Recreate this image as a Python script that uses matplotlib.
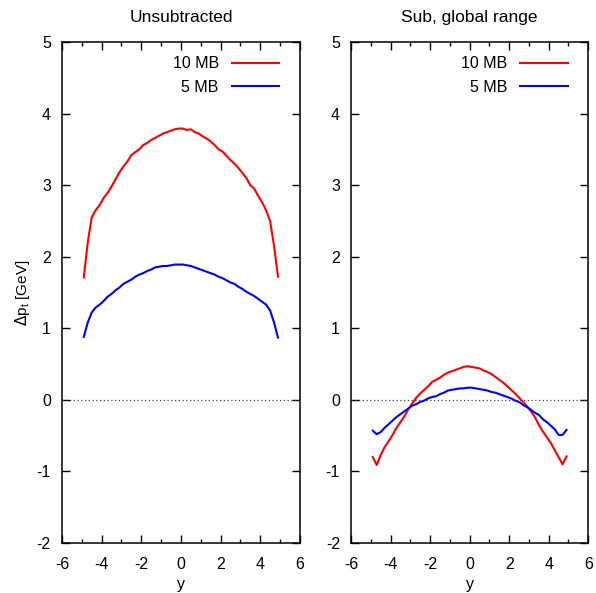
import numpy as np
import matplotlib
matplotlib.use('Agg')
import matplotlib.pyplot as plt
from matplotlib.ticker import MultipleLocator

plt.rcParams['font.family'] = ['Liberation Sans', 'DejaVu Sans']
plt.rcParams['axes.unicode_minus'] = False

# rapidity bins (bin centres)
y_vals = [-4.9, -4.7, -4.5, -4.3, -4.1, -3.9, -3.7, -3.5, -3.3, -3.1,
          -2.9, -2.7, -2.5, -2.3, -2.1, -1.9, -1.7, -1.5, -1.3, -1.1,
          -0.9, -0.7, -0.5, -0.3, -0.1, 0.1, 0.3, 0.5, 0.7, 0.9,
          1.1, 1.3, 1.5, 1.7, 1.9, 2.1, 2.3, 2.5, 2.7, 2.9,
          3.1, 3.3, 3.5, 3.7, 3.9, 4.1, 4.3, 4.5, 4.7, 4.9]

unsub_10mb = [1.71, 2.20, 2.55, 2.65, 2.72, 2.82, 2.89, 2.98, 3.08, 3.18,
              3.26, 3.33, 3.42, 3.46, 3.50, 3.56, 3.59, 3.63, 3.66, 3.69,
              3.72, 3.74, 3.76, 3.78, 3.79, 3.79, 3.77, 3.78, 3.74, 3.72,
              3.68, 3.65, 3.61, 3.56, 3.50, 3.47, 3.41, 3.35, 3.30, 3.24,
              3.17, 3.10, 3.00, 2.95, 2.85, 2.76, 2.65, 2.50, 2.15, 1.72]

unsub_5mb = [0.88, 1.08, 1.22, 1.29, 1.33, 1.38, 1.44, 1.48, 1.53, 1.57,
             1.62, 1.65, 1.68, 1.72, 1.75, 1.77, 1.80, 1.82, 1.85, 1.86,
             1.87, 1.87, 1.88, 1.89, 1.89, 1.89, 1.88, 1.87, 1.85, 1.83,
             1.81, 1.79, 1.77, 1.75, 1.72, 1.70, 1.67, 1.64, 1.62, 1.58,
             1.55, 1.51, 1.48, 1.45, 1.41, 1.37, 1.33, 1.25, 1.08, 0.87]

sub_10mb = [-0.80, -0.91, -0.77, -0.66, -0.58, -0.49, -0.39, -0.31, -0.23, -0.13,
            -0.05, 0.03, 0.09, 0.14, 0.19, 0.25, 0.28, 0.31, 0.35, 0.38,
            0.40, 0.42, 0.44, 0.46, 0.47, 0.46, 0.45, 0.44, 0.41, 0.39,
            0.36, 0.32, 0.28, 0.24, 0.19, 0.14, 0.09, 0.03, -0.03, -0.09,
            -0.16, -0.24, -0.35, -0.44, -0.52, -0.60, -0.70, -0.80, -0.90, -0.79]

sub_5mb = [-0.43, -0.48, -0.45, -0.39, -0.34, -0.29, -0.24, -0.20, -0.16, -0.12,
           -0.08, -0.06, -0.03, -0.01, 0.02, 0.04, 0.05, 0.08, 0.10, 0.13,
           0.14, 0.15, 0.16, 0.16, 0.17, 0.17, 0.16, 0.15, 0.14, 0.13,
           0.11, 0.10, 0.08, 0.06, 0.04, 0.02, -0.01, -0.03, -0.07, -0.10,
           -0.14, -0.18, -0.21, -0.27, -0.31, -0.36, -0.41, -0.49, -0.49, -0.42]

titles = ['Unsubtracted', 'Sub, global range']
labels = ['10 MB', '5 MB']


def style_axes(ax, title):
    ax.set_xlim(-6, 6)
    ax.set_ylim(-2, 5)
    ax.xaxis.set_major_locator(MultipleLocator(2))
    ax.xaxis.set_minor_locator(MultipleLocator(1))
    ax.yaxis.set_major_locator(MultipleLocator(1))
    ax.tick_params(which='both', direction='in', top=True, right=True,
                   labelsize=11.5, width=1)
    ax.tick_params(which='major', length=6)
    ax.tick_params(axis='x', which='major', pad=10)
    ax.tick_params(axis='y', which='major', pad=8)
    ax.tick_params(which='minor', length=3)
    for sp in ax.spines.values():
        sp.set_linewidth(1.1)
    ax.axhline(0, color='#444444', lw=0.9, ls=(0, (1, 2)))
    ax.set_title(title, fontsize=12.5, pad=14)
    ax.set_xlabel('y', fontsize=11.5, labelpad=4)


fig = plt.figure(figsize=(5.96, 5.93), dpi=100)
ax1 = fig.add_axes([0.104, 0.0843, 0.399, 0.845])
ax2 = fig.add_axes([0.589, 0.0843, 0.398, 0.845])

for ax, title, (a, b) in zip([ax1, ax2], titles,
                             [(unsub_10mb, unsub_5mb), (sub_10mb, sub_5mb)]):
    style_axes(ax, title)
    ax.plot(y_vals, a, color='#ff0000', lw=1.5, label=labels[0])
    ax.plot(y_vals, b, color='#0000ff', lw=1.5, label=labels[1])
    ax.legend(loc='upper right', bbox_to_anchor=(0.975, 1.0), frameon=False,
              markerfirst=False, fontsize=11.5, handlelength=3.0,
              handletextpad=0.8, labelspacing=0.55, borderaxespad=0.5)

ax1.set_ylabel(r'$\Delta$p$_\mathregular{t}$ [GeV]', fontsize=11, labelpad=3)

fig.savefig('out.png', dpi=100)
